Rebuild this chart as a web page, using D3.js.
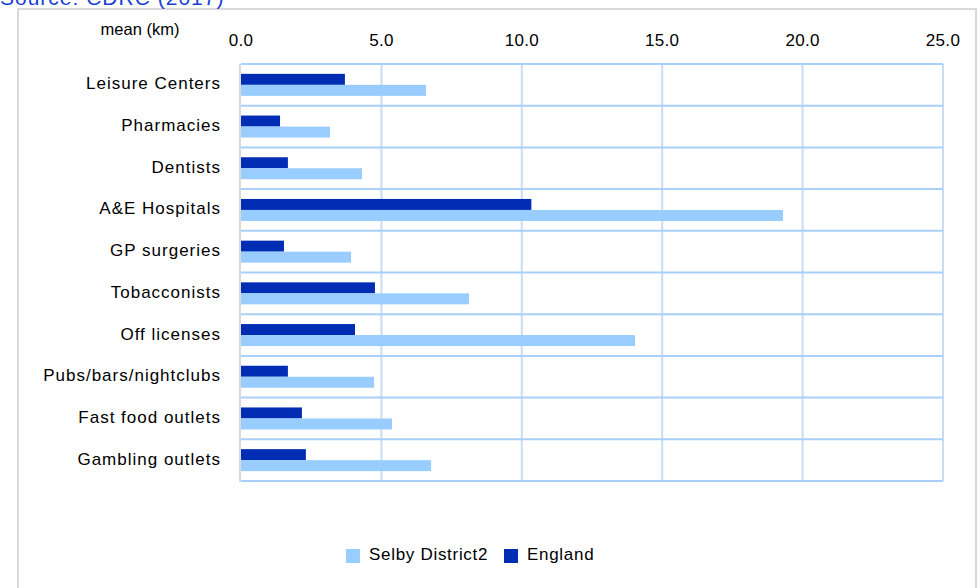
<!DOCTYPE html>
<html><head><meta charset="utf-8">
<script src="https://cdn.jsdelivr.net/npm/d3@7/dist/d3.min.js"></script>
<style>body{margin:0;background:#fff}svg{display:block;font-family:"Liberation Sans",Arial,sans-serif}</style>
</head><body><svg id="c" width="980" height="588"></svg>
<script>
const categories = ["Leisure Centers","Pharmacies","Dentists","A&E Hospitals","GP surgeries","Tobacconists","Off licenses","Pubs/bars/nightclubs","Fast food outlets","Gambling outlets"];
const englandValues = [3.70,1.39,1.67,10.34,1.53,4.77,4.06,1.67,2.17,2.31];
const selbyValues = [6.59,3.17,4.31,19.30,3.92,8.12,14.03,4.74,5.38,6.77];
const tickValues = [0,5,10,15,20,25];
const seriesNames = ["Selby District2","England"];

const svg = d3.select("#c");
const m = {left:241, right:943, top:64, bottom:481};
const x = d3.scaleLinear().domain([0,25]).range([m.left,m.right]);
const y = d3.scaleBand().domain(categories).range([m.top,m.bottom]);
const colE = "#002db3", colS = "#99ccff";

// frame
svg.append("rect").attr("x",18).attr("y",9).attr("width",958).attr("height",600)
  .attr("fill","none").attr("stroke","#d9d9d9").attr("stroke-width",2);
// source text
svg.append("text").attr("x",0).attr("y",5).attr("fill","#1a3fd6").attr("font-size",21)
  .attr("letter-spacing",1).text("Source:  CDRC (2017)");

// vertical grid
svg.append("g").selectAll("line").data(tickValues.slice(1)).join("line")
  .attr("x1",d=>x(d)).attr("x2",d=>x(d)).attr("y1",m.top).attr("y2",m.bottom)
  .attr("stroke","#c8ddf3").attr("stroke-width",2);
// horizontal grid
const hl = categories.map(c=>y(c)).concat([m.bottom]);
svg.append("g").selectAll("line").data(hl).join("line")
  .attr("x1",m.left).attr("x2",m.right).attr("y1",d=>d).attr("y2",d=>d)
  .attr("stroke","#a8d0f8").attr("stroke-width",2);
// left axis
svg.append("line").attr("x1",m.left-1).attr("x2",m.left-1).attr("y1",m.top).attr("y2",m.bottom+1)
  .attr("stroke","#d9d9d9").attr("stroke-width",2);

// bars
const bh = 11;
svg.append("g").selectAll("rect").data(categories).join("rect")
  .attr("x",x(0)).attr("y",d=>y(d)+y.bandwidth()/2-bh)
  .attr("width",(d,i)=>x(englandValues[i])-x(0)).attr("height",bh).attr("fill",colE);
svg.append("g").selectAll("rect").data(categories).join("rect")
  .attr("x",x(0)).attr("y",d=>y(d)+y.bandwidth()/2)
  .attr("width",(d,i)=>x(selbyValues[i])-x(0)).attr("height",bh).attr("fill",colS);

// category labels
svg.append("g").selectAll("text").data(categories).join("text")
  .attr("x",221).attr("y",d=>y(d)+y.bandwidth()/2).attr("text-anchor","end")
  .attr("dominant-baseline","middle").attr("font-size",17).attr("letter-spacing",1)
  .attr("fill","#000").text(d=>d);
// tick labels
svg.append("g").selectAll("text").data(tickValues).join("text")
  .attr("x",d=>x(d)).attr("y",46).attr("text-anchor","middle").attr("font-size",17)
  .attr("letter-spacing",0.3).attr("fill","#000").text(d=>d3.format(".1f")(d));
svg.append("text").attr("x",140).attr("y",35).attr("text-anchor","middle").attr("font-size",16.5)
  .text("mean (km)");

// legend
const lg = [{n:seriesNames[0],c:colS,x:346},{n:seriesNames[1],c:colE,x:504}];
lg.forEach(l=>{
  svg.append("rect").attr("x",l.x).attr("y",549).attr("width",14).attr("height",14).attr("fill",l.c);
  svg.append("text").attr("x",l.x+23).attr("y",560).attr("font-size",17).attr("letter-spacing",0.7).text(l.n);
});
</script></body></html>
